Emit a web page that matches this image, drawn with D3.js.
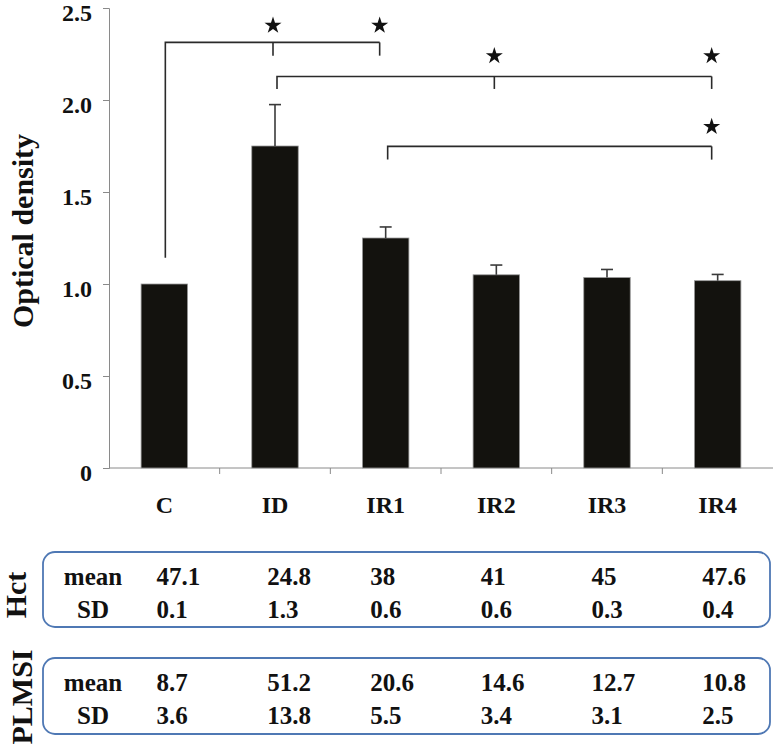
<!DOCTYPE html>
<html>
<head>
<meta charset="utf-8">
<script src="https://cdn.jsdelivr.net/npm/d3@7"></script>
<style>
  body { margin: 0; background: #fff; }
  svg text { font-family: "Liberation Serif", "Times New Roman", serif; font-weight: bold; fill: #111; }
</style>
</head>
<body>
<div id="chart"></div>
<script>
// groups and optical density (mean, SD)
const groups = ["C", "ID", "IR1", "IR2", "IR3", "IR4"];
const odMean = [1.0, 1.75, 1.25, 1.05, 1.035, 1.018];
const odSD = [0, 0.225, 0.06, 0.053, 0.044, 0.034];
const yTicks = [0, 0.5, 1.0, 1.5, 2.0, 2.5];

// table under the chart
const hctMean = ["47.1", "24.8", "38", "41", "45", "47.6"];
const hctSD = ["0.1", "1.3", "0.6", "0.6", "0.3", "0.4"];
const plmsiMean = ["8.7", "51.2", "20.6", "14.6", "12.7", "10.8"];
const plmsiSD = ["3.6", "13.8", "5.5", "3.4", "3.1", "2.5"];

// significance brackets (levels in optical density units)
const sigFrom = ["C", "ID", "IR1"];
const sigTicks = [["ID", "IR1"], ["IR2", "IR4"], ["IR4"]];
const sigLevel = [2.313, 2.128, 1.748];
const sigDrop = [1.143, 2.06, 1.676];
const sigStarLevel = [2.41, 2.245, 1.86];

const W = 776, H = 744;
const margin = { top: 8, left: 109, right: 3 };
const width = W - margin.left - margin.right,
  height = 468 - margin.top;

const svg = d3.select("#chart").append("svg")
  .attr("width", W)
  .attr("height", H);

const g = svg.append("g")
  .attr("transform", `translate(${margin.left},${margin.top})`);

const x = d3.scaleBand().domain(groups).range([0, width]).padding(0);
const y = d3.scaleLinear().domain([0, 2.5]).range([height, 0]);
const bw = x.bandwidth();
const barW = bw * 0.42;
const cx = (c) => x(c) + bw / 2;

// y axis
const yAxis = g.append("g")
  .call(d3.axisLeft(y).tickValues(yTicks).tickSize(6).tickPadding(11)
    .tickFormat((d) => (d === 0 ? "0" : d3.format(".1f")(d))));
yAxis.select(".domain").attr("stroke", "#8a8a8a");
yAxis.selectAll(".tick line").attr("stroke", "#8a8a8a");
yAxis.selectAll("text")
  .attr("font-size", 24)
  .attr("font-family", null)
  .attr("dy", "0.5em")
  .attr("fill", "#111");

// x axis: baseline, boundary ticks, labels
g.append("line")
  .attr("x1", 0).attr("x2", width)
  .attr("y1", height).attr("y2", height)
  .attr("stroke", "#8a8a8a");
g.selectAll(".xtick")
  .data(groups.slice(1))
  .join("line")
  .attr("x1", (d) => x(d)).attr("x2", (d) => x(d))
  .attr("y1", height).attr("y2", height + 6)
  .attr("stroke", "#8a8a8a");
g.selectAll(".xlabel")
  .data(groups)
  .join("text")
  .attr("x", (d) => cx(d))
  .attr("y", height + 45)
  .attr("text-anchor", "middle")
  .attr("font-size", 24)
  .text((d) => d);

// bars
g.selectAll(".bar")
  .data(groups)
  .join("rect")
  .attr("x", (d) => cx(d) - barW / 2)
  .attr("y", (d, i) => y(odMean[i]))
  .attr("width", barW)
  .attr("height", (d, i) => height - y(odMean[i]))
  .attr("fill", "#13120e")
  .attr("stroke", "#9a9a9a")
  .attr("stroke-width", 0.8);

// error bars
const err = g.append("g").attr("stroke", "#3a3a3a").attr("stroke-width", 1.6);
groups.forEach((c, i) => {
  if (!odSD[i]) return;
  const top = y(odMean[i] + odSD[i]);
  err.append("line")
    .attr("x1", cx(c)).attr("x2", cx(c))
    .attr("y1", y(odMean[i])).attr("y2", top);
  err.append("line")
    .attr("x1", cx(c) - 6).attr("x2", cx(c) + 6)
    .attr("y1", top).attr("y2", top);
});

// significance brackets
const br = g.append("g").attr("stroke", "#2a2a2a").attr("stroke-width", 1.6).attr("fill", "none");
const star = d3.symbol().type(d3.symbolStar).size(90);
sigFrom.forEach((from, i) => {
  const ends = sigTicks[i];
  const x0 = cx(from) + (i === 0 ? 1 : 2);
  const x1 = cx(ends[ends.length - 1]) - 6;
  const ly = y(sigLevel[i]);
  br.append("path")
    .attr("d", `M${x0},${y(sigDrop[i])}V${ly}H${x1}`);
  ends.forEach((t) => {
    const tx = t === ends[ends.length - 1] ? x1 : cx(t) - 2;
    const dropTo = i === 0 ? y(2.241) : y(sigDrop[i]);
    br.append("line")
      .attr("x1", tx).attr("x2", tx)
      .attr("y1", ly).attr("y2", dropTo);
    g.append("path")
      .attr("d", star)
      .attr("transform", `translate(${tx},${y(sigStarLevel[i]) + 1})`)
      .attr("fill", "#111");
  });
});

// y title
svg.append("text")
  .attr("transform", "translate(33,231) rotate(-90)")
  .attr("text-anchor", "middle")
  .attr("font-size", 30)
  .text("Optical density");

// tables
const tables = [
  { name: "Hct", mean: hctMean, sd: hctSD, top: 552, bottom: 627, labelX: 26, labelY: 595 },
  { name: "PLMSI", mean: plmsiMean, sd: plmsiSD, top: 658, bottom: 734, labelX: 32, labelY: 697 }
];
tables.forEach((t) => {
  svg.append("rect")
    .attr("x", 43).attr("y", t.top)
    .attr("width", 770 - 43).attr("height", t.bottom - t.top)
    .attr("rx", 12)
    .attr("fill", "none")
    .attr("stroke", "#4f78b4")
    .attr("stroke-width", 1.8);
  svg.append("text")
    .attr("transform", `translate(${t.labelX},${t.labelY}) rotate(-90)`)
    .attr("text-anchor", "middle")
    .attr("font-size", 30)
    .text(t.name);
  const rows = [["mean", t.mean, t.top + 33], ["SD", t.sd, t.top + 66]];
  rows.forEach(([label, vals, by]) => {
    svg.append("text")
      .attr("x", 93).attr("y", by)
      .attr("text-anchor", "middle")
      .attr("font-size", 25)
      .text(label);
    svg.selectAll(null)
      .data(groups)
      .join("text")
      .attr("x", (d, i) => margin.left + x(d) + bw * (i < 2 ? 0.43 : 0.36))
      .attr("y", by)
      .attr("font-size", 25)
      .text((d, i) => vals[i]);
  });
});
</script>
</body>
</html>
